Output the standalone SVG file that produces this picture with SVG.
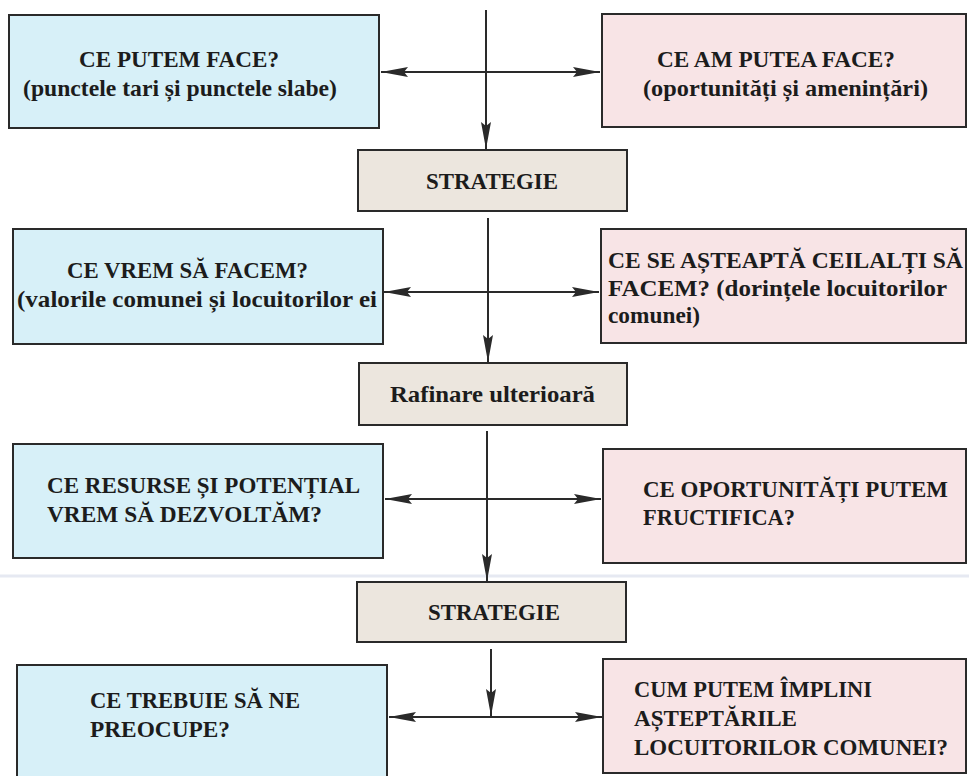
<svg xmlns="http://www.w3.org/2000/svg" width="969" height="776" viewBox="0 0 969 776">
<defs>
<style>
.box{stroke:#2a2a2a;stroke-width:2}
.blue{fill:#d7f0f8}
.pink{fill:#f8e4e6}
.beige{fill:#ece6de}
.t{font-family:'Liberation Serif','Times New Roman','DejaVu Serif',serif;font-weight:bold;font-size:23px;fill:#1c1c1c}
.c{fill:none;stroke:#2a2a2a;stroke-width:2}
</style>
<marker id="ah" markerUnits="userSpaceOnUse" markerWidth="30" markerHeight="12" viewBox="-28 -6 30 12" refX="0" refY="0" orient="auto">
<path d="M0,0 L-27,-5 L-23,0 L-27,5 Z" fill="#2a2a2a"/>
</marker>
</defs>
<rect width="969" height="776" fill="#ffffff"/>
<line x1="0" y1="576" x2="969" y2="576" stroke="#e6e9f2" stroke-width="3"/>

<g id="connectors">
<line class="c" x1="486" y1="10" x2="486" y2="149" marker-end="url(#ah)"/>
<line class="c" x1="486" y1="72" x2="381" y2="72" marker-end="url(#ah)"/>
<line class="c" x1="486" y1="72" x2="600" y2="72" marker-end="url(#ah)"/>
<line class="c" x1="488" y1="218" x2="488" y2="362" marker-end="url(#ah)"/>
<line class="c" x1="488" y1="292" x2="384" y2="292" marker-end="url(#ah)"/>
<line class="c" x1="488" y1="292" x2="599" y2="292" marker-end="url(#ah)"/>
<line class="c" x1="487" y1="431" x2="487" y2="581" marker-end="url(#ah)"/>
<line class="c" x1="487" y1="499" x2="385" y2="499" marker-end="url(#ah)"/>
<line class="c" x1="487" y1="499" x2="601" y2="499" marker-end="url(#ah)"/>
<line class="c" x1="491" y1="649" x2="491" y2="716" marker-end="url(#ah)"/>
<line class="c" x1="491" y1="717" x2="389" y2="717" marker-end="url(#ah)"/>
<line class="c" x1="491" y1="717" x2="602" y2="717" marker-end="url(#ah)"/>
</g>

<g id="n1">
<rect class="box blue" x="9" y="15" width="370" height="113"/>
<text class="t" x="79" y="67" textLength="200" lengthAdjust="spacingAndGlyphs">CE PUTEM FACE?</text>
<text class="t" x="23" y="96" textLength="314" lengthAdjust="spacingAndGlyphs">(punctele tari și punctele slabe)</text>
</g>
<g id="n2">
<rect class="box pink" x="602" y="14" width="364" height="113"/>
<text class="t" x="657" y="67" textLength="238" lengthAdjust="spacingAndGlyphs">CE AM PUTEA FACE?</text>
<text class="t" x="643" y="96" textLength="285" lengthAdjust="spacingAndGlyphs">(oportunități și amenințări)</text>
</g>
<g id="n3">
<rect class="box beige" x="358" y="150" width="269" height="61"/>
<text class="t" x="426" y="189" textLength="132" lengthAdjust="spacingAndGlyphs">STRATEGIE</text>
</g>
<g id="n4">
<rect class="box blue" x="13" y="229" width="370" height="115"/>
<text class="t" x="67" y="278" textLength="241" lengthAdjust="spacingAndGlyphs">CE VREM SĂ FACEM?</text>
<text class="t" x="17" y="307" textLength="360" lengthAdjust="spacingAndGlyphs">(valorile comunei și locuitorilor ei</text>
</g>
<g id="n5">
<rect class="box pink" x="601" y="229" width="365" height="114"/>
<text class="t" x="608" y="268" textLength="355" lengthAdjust="spacingAndGlyphs">CE SE AȘTEAPTĂ CEILALȚI SĂ</text>
<text class="t" x="608" y="296" textLength="339" lengthAdjust="spacingAndGlyphs">FACEM? (dorințele locuitorilor</text>
<text class="t" x="608" y="323" textLength="92" lengthAdjust="spacingAndGlyphs">comunei)</text>
</g>
<g id="n6">
<rect class="box beige" x="359" y="363" width="268" height="62"/>
<text class="t" x="390" y="402" textLength="205" lengthAdjust="spacingAndGlyphs">Rafinare ulterioară</text>
</g>
<g id="n7">
<rect class="box blue" x="13" y="444" width="370" height="114"/>
<text class="t" x="47" y="493" textLength="313" lengthAdjust="spacingAndGlyphs">CE RESURSE ȘI POTENȚIAL</text>
<text class="t" x="47" y="522" textLength="275" lengthAdjust="spacingAndGlyphs">VREM SĂ DEZVOLTĂM?</text>
</g>
<g id="n8">
<rect class="box pink" x="603" y="449" width="363" height="114"/>
<text class="t" x="643" y="497" textLength="305" lengthAdjust="spacingAndGlyphs">CE OPORTUNITĂȚI PUTEM</text>
<text class="t" x="643" y="525" textLength="152" lengthAdjust="spacingAndGlyphs">FRUCTIFICA?</text>
</g>
<g id="n9">
<rect class="box beige" x="357" y="582" width="269" height="60"/>
<text class="t" x="428" y="620" textLength="132" lengthAdjust="spacingAndGlyphs">STRATEGIE</text>
</g>
<g id="n10">
<rect class="box blue" x="17" y="665" width="370" height="120"/>
<text class="t" x="90" y="708" textLength="210" lengthAdjust="spacingAndGlyphs">CE TREBUIE SĂ NE</text>
<text class="t" x="90" y="737" textLength="140" lengthAdjust="spacingAndGlyphs">PREOCUPE?</text>
</g>
<g id="n11">
<rect class="box pink" x="603" y="659" width="363" height="114"/>
<text class="t" x="634" y="697" textLength="238" lengthAdjust="spacingAndGlyphs">CUM PUTEM ÎMPLINI</text>
<text class="t" x="634" y="726" textLength="163" lengthAdjust="spacingAndGlyphs">AȘTEPTĂRILE</text>
<text class="t" x="634" y="755" textLength="314" lengthAdjust="spacingAndGlyphs">LOCUITORILOR COMUNEI?</text>
</g>
</svg>
